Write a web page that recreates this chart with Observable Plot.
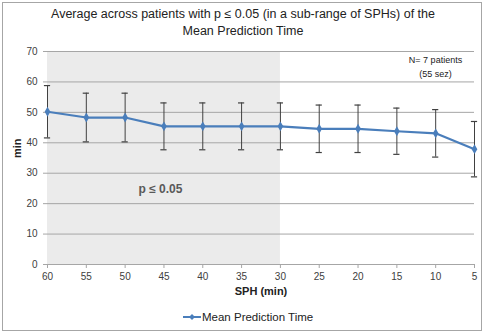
<!DOCTYPE html>
<html><head><meta charset="utf-8">
<script src="https://cdn.jsdelivr.net/npm/d3@7"></script>
<script src="https://cdn.jsdelivr.net/npm/@observablehq/plot@0.6"></script>
<style>
body{margin:0;background:#fff;font-family:"Liberation Sans",Arial,sans-serif;}
#wrap{position:relative;width:486px;height:335px;overflow:hidden;}
#frame{position:absolute;left:2px;top:2px;width:480px;height:329px;border:1px solid #a6a6a6;box-sizing:border-box;pointer-events:none;}
#title{position:absolute;left:0;top:6px;width:486px;text-align:center;font-size:12.5px;line-height:17px;color:#222;}
#legend{position:absolute;left:183px;top:311px;font-size:11.5px;color:#222;display:flex;align-items:center;}
#chart{position:absolute;left:0;top:0;}
</style></head>
<body>
<div id="wrap">
<div id="chart"></div>
<div id="title">Average across patients with p ≤ 0.05 (in a sub-range of SPHs) of the<br>Mean Prediction Time</div>
<div id="legend"><svg width="19" height="10"><line x1="0" y1="5" x2="18" y2="5" stroke="#4a7ebb" stroke-width="2"/><path d="M9,2 L12,5 L9,8 L6,5 Z" fill="#4a7ebb"/></svg><span>Mean Prediction Time</span></div>
<div id="frame"></div>
</div>
<script>
const sph = [60, 55, 50, 45, 40, 35, 30, 25, 20, 15, 10, 5];
const meanTime = [50.2, 48.3, 48.3, 45.4, 45.4, 45.4, 45.4, 44.6, 44.6, 43.8, 43.1, 37.9];
const errTime = [8.6, 8.0, 8.0, 7.7, 7.7, 7.7, 7.7, 7.8, 7.8, 7.6, 7.8, 9.1];
const yTicks = [0, 10, 20, 30, 40, 50, 60, 70];
const shadeRange = [60, 30];
const annotations = ["N= 7 patients", "(55 sez)", "p ≤ 0.05"];

const data = sph.map((x, i) => ({x, y: meanTime[i], lo: meanTime[i] - errTime[i], hi: meanTime[i] + errTime[i]}));
const capHalf = 0.4;

const plot = Plot.plot({
  width: 486, height: 335,
  marginLeft: 47, marginRight: 12, marginTop: 51, marginBottom: 71,
  style: {fontFamily: "Liberation Sans, Arial, sans-serif", fontSize: "10px", color: "#404040", background: "transparent"},
  x: {domain: [60, 5], ticks: sph, tickSize: 4, label: null, tickPadding: 4},
  y: {domain: [0, 70], ticks: yTicks, tickSize: 4, label: null, tickPadding: 6},
  marks: [
    Plot.rect([{x1: shadeRange[0], x2: shadeRange[1], y1: 0, y2: 70}], {x1: "x1", x2: "x2", y1: "y1", y2: "y2", fill: "#ebebeb"}),
    Plot.ruleY(yTicks.filter(d => d > 0), {stroke: "#a6a6a6", strokeWidth: 1}),
    Plot.ruleY([0], {stroke: "#a6a6a6"}),
    Plot.axisX({ticks: sph, tickSize: 4, stroke: "#a6a6a6", tickPadding: 4, fill: "#404040", fontSize: 10}),
    Plot.axisY({ticks: yTicks, tickSize: 4, stroke: "#a6a6a6", tickPadding: 6, fill: "#404040", fontSize: 10}),
    Plot.ruleX(data, {x: "x", y1: "lo", y2: "hi", stroke: "#404040", strokeWidth: 1}),
    Plot.ruleY(data, {x1: d => d.x - capHalf, x2: d => d.x + capHalf, y: "hi", stroke: "#404040", strokeWidth: 1.2}),
    Plot.ruleY(data, {x1: d => d.x - capHalf, x2: d => d.x + capHalf, y: "lo", stroke: "#404040", strokeWidth: 1.2}),
    Plot.line(data, {x: "x", y: "y", stroke: "#4a7ebb", strokeWidth: 2.2}),
    Plot.dot(data, {x: "x", y: "y", symbol: "diamond", r: 3, fill: "#4a7ebb", stroke: "none"}),
    Plot.text([annotations[0]], {frameAnchor: "top-right", dx: -39, dy: 5, text: d => d, fontSize: 9, fill: "#222", textAnchor: "middle"}),
    Plot.text([annotations[1]], {frameAnchor: "top-right", dx: -39, dy: 19, text: d => d, fontSize: 9, fill: "#222", textAnchor: "middle"}),
    Plot.text([annotations[2]], {frameAnchor: "top-left", dx: 113, dy: 133, text: d => d, fontSize: 12, fontWeight: "bold", fill: "#595959", textAnchor: "middle"}),
    Plot.text(["min"], {frameAnchor: "left", dx: -30, dy: 0, rotate: -90, text: d => d, fontSize: 11, fontWeight: "bold", fill: "#222"}),
    Plot.text(["SPH (min)"], {frameAnchor: "bottom", dx: 0, dy: 30, text: d => d, fontSize: 11, fontWeight: "bold", fill: "#222"})
  ]
});
document.getElementById("chart").appendChild(plot);
</script>
</body></html>
